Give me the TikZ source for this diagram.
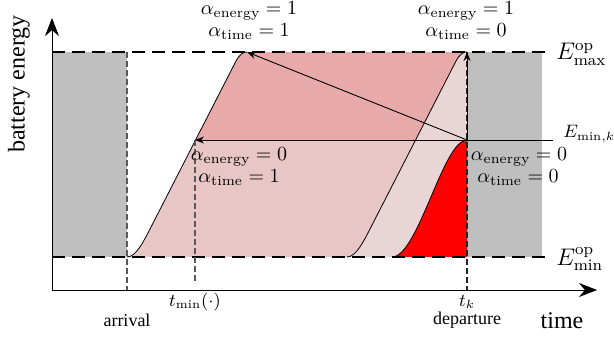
\documentclass[tikz,border=0pt]{standalone}
\usepackage{fontspec}
\newfontfamily\tnr{Liberation Serif}
\usetikzlibrary{arrows.meta}
\definecolor{gbox}{HTML}{BFBFBF}
\definecolor{pdark}{HTML}{E8A9A9}
\definecolor{pmid}{HTML}{E8C6C6}
\definecolor{plight}{HTML}{E9D5D5}
\newcommand\pathA{(127,257) .. controls (136,257) and (143.8,241) .. (150,229) -- (236,61) .. controls (240,54) and (243,52) .. (247,52)}
\newcommand\pathBrev{(467,52) .. controls (463,52) and (460,54) .. (456,61) -- (370,229) .. controls (363.8,241) and (356,257) .. (347,257)}
\newcommand\pathC{(392,257) .. controls (418,257) and (443,140) .. (467,140)}
\begin{document}
\begin{tikzpicture}[x=0.5pt,y=-0.5pt,
  oplevel/.style={line width=0.6pt, dash pattern=on 6.5pt off 3.5pt},
  marker/.style={line width=0.6pt, black!65, dash pattern=on 3pt off 1.5pt},
  curve/.style={line width=0.4pt},
  choice/.style={line width=0.45pt, -{Stealth[length=4.5pt,width=3.5pt]}},
  axis/.style={line width=0.5pt, -{Stealth[length=9pt,width=7pt]}},
  lbl/.style={inner sep=0pt, font=\normalsize},
  txt/.style={inner sep=0pt, font=\tnr\small}]
\useasboundingbox (0,0) rectangle (614,339);
% grey unavailable periods
\fill[gbox] (52,52) rectangle (127,257);
\fill[gbox] (467,52) rectangle (542,257);
% regions
\fill[plight] \pathA -- (467,52) -- (467,257) -- cycle;
\fill[pmid] \pathA -- \pathBrev -- cycle;
\begin{scope}
  \clip (0,0) rectangle (614,140);
  \fill[pdark] \pathA -- \pathBrev -- cycle;
\end{scope}
\fill[red] \pathC -- (467,257) -- cycle;
% curves
\draw[curve] \pathA;
\draw[curve] \pathBrev;
\draw[curve] \pathC;
% coordinates
\coordinate (k) at (467,140);
\coordinate (top1) at (247,52);
\coordinate (top2) at (467,52);
\coordinate (mid1) at (195,140);
\coordinate (kend) at (553,140);
\coordinate (arrT) at (127,52);
\coordinate (arrB) at (127,290);
\coordinate (tmT) at (195,140);
\coordinate (tmB) at (195,283);
\coordinate (depB) at (467,290);
\coordinate (o) at (52,290);
\coordinate (yend) at (52,18);
\coordinate (xend) at (597,290);
\coordinate (maxL) at (52,52);
\coordinate (maxR) at (548,52);
\coordinate (minL) at (52,257);
\coordinate (minR) at (548,257);
% operating limits
\draw[oplevel] (maxL) -- (maxR);
\draw[oplevel] (minL) -- (minR);
% markers
\draw[marker] (arrT) -- (arrB);
\draw[marker] (tmT) -- (tmB);
\draw[marker, black!85] (top2) -- (depB);
% E_min,k line
\draw[line width=0.45pt] (k) -- (kend);
% arrows
\draw[choice] (k) -- (top1);
\draw[choice] (k) -- (mid1);
\draw[choice] (k) -- (top2);
% axes
\draw[axis] (o) -- (yend);
\draw[axis] (o) -- (xend);
% labels
\node[txt, font=\tnr\large, rotate=90] (ylab) at (19,84) {battery energy};
\node[txt, font=\tnr\large] (xlab) at (562,321) {time};
\node[txt] (arr) at (127,320) {arrival};
\node[txt] (dep) at (467,320) {departure};
\node[lbl, font=\small] (tmin) at (195,302) {$t_{\min}(\cdot)$};
\node[lbl, font=\small] (tk) at (467,302) {$t_k$};
\node[lbl, font=\large, anchor=west] (emax) at (556,54) {$E^{\mathrm{op}}_{\max}$};
\node[lbl, font=\large, anchor=west] (emin) at (556,259) {$E^{\mathrm{op}}_{\min}$};
\node[lbl, font=\small, anchor=west] (emink) at (563,134) {$E_{\min,k}$};
\node[lbl] (a1e) at (249,11) {$\alpha_{\mathrm{energy}}=1$};
\node[lbl] (a1t) at (249,32) {$\alpha_{\mathrm{time}}=1$};
\node[lbl] (a2e) at (466,11) {$\alpha_{\mathrm{energy}}=1$};
\node[lbl] (a2t) at (466,32) {$\alpha_{\mathrm{time}}=0$};
\node[lbl] (a3e) at (239,157) {$\alpha_{\mathrm{energy}}=0$};
\node[lbl] (a3t) at (239,178) {$\alpha_{\mathrm{time}}=1$};
\node[lbl] (a4e) at (519,157) {$\alpha_{\mathrm{energy}}=0$};
\node[lbl] (a4t) at (518,178) {$\alpha_{\mathrm{time}}=0$};
\end{tikzpicture}
\end{document}
